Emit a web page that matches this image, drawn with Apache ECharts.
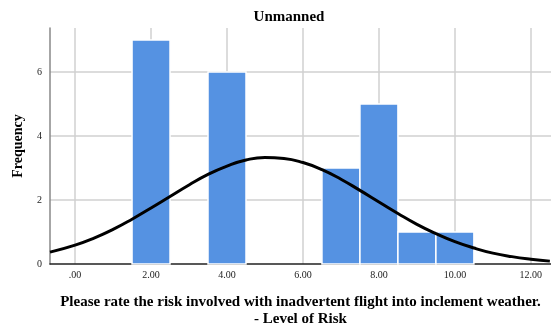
<!DOCTYPE html>
<html><head><meta charset="utf-8">
<script src="https://cdn.jsdelivr.net/npm/echarts@6/dist/echarts.min.js"></script>
<style>html,body{margin:0;padding:0;background:#fff}#c{width:551px;height:324px}</style>
</head><body><div id="c"></div>
<script>
// Histogram bins (center, count), bin width 1
const binCenters = [2, 4, 7, 8, 9, 10];
const binCounts = [7, 6, 3, 5, 1, 1];
const binWidth = 1;
// Normal curve
const curveX = [-0.66, 0, 0.5, 1, 1.5, 2, 2.5, 3, 3.5, 4, 4.5, 5, 5.5, 6, 6.5, 7, 7.5, 8, 8.5, 9, 9.5, 10, 10.5, 11, 11.5, 12, 12.5];
const curveY = [0.37, 0.59, 0.81, 1.08, 1.40, 1.75, 2.11, 2.47, 2.80, 3.06, 3.25, 3.33, 3.30, 3.17, 2.95, 2.65, 2.30, 1.94, 1.58, 1.24, 0.95, 0.70, 0.50, 0.34, 0.23, 0.15, 0.09];
const xTicks = [0, 2, 4, 6, 8, 10, 12];
const yTicks = [0, 2, 4, 6];
const titleText = 'Unmanned';
const xTitle = 'Please rate the risk involved with inadvertent flight into inclement weather.\n- Level of Risk';
const yTitle = 'Frequency';

const serif = '"Liberation Serif", "DejaVu Serif", serif';
const gridStyle = { color: '#d0d0d0', width: 1.5, type: 'solid' };
const chart = echarts.init(document.getElementById('c'));
chart.setOption({
  animation: false,
  title: { text: titleText, left: 284, top: 5, textAlign: 'center',
    textStyle: { fontFamily: serif, fontWeight: 'bold', fontSize: 15, color: '#000' } },
  grid: { left: 50, right: 0, top: 28, bottom: 60, containLabel: false, outerBoundsMode: 'none' },
  xAxis: {
    type: 'value', min: -0.66, max: 12.53,
    axisLine: { show: true, onZero: false, lineStyle: { color: '#222', width: 1.5 } },
    axisTick: { show: false, customValues: xTicks },
    axisLabel: { customValues: xTicks, fontFamily: serif, fontSize: 10, color: '#222', margin: 6,
      formatter: v => v === 0 ? '.00' : v.toFixed(2) },
    splitLine: { show: false },
    name: xTitle, nameLocation: 'middle', nameGap: 30,
    nameTextStyle: { fontFamily: serif, fontWeight: 'bold', fontSize: 15, color: '#000', lineHeight: 17 }
  },
  yAxis: {
    type: 'value', min: 0, max: 7.375,
    axisLine: { show: true, onZero: false, lineStyle: { color: '#888', width: 1.5 } },
    axisTick: { show: false, customValues: yTicks },
    axisLabel: { customValues: yTicks, fontFamily: serif, fontSize: 10, color: '#222', margin: 8 },
    splitLine: { show: false },
    name: yTitle, nameLocation: 'middle', nameGap: 25, nameRotate: 90,
    nameTextStyle: { fontFamily: serif, fontWeight: 'bold', fontSize: 14, color: '#000' }
  },
  series: [
    {
      type: 'line', data: [], z: 0, silent: true,
      markLine: {
        z: 0, silent: true, symbol: 'none', label: { show: false }, lineStyle: gridStyle,
        emphasis: { disabled: true },
        data: xTicks.map(v => ({ xAxis: v })).concat(yTicks.filter(v => v > 0).map(v => ({ yAxis: v })))
      }
    },
    {
      type: 'custom',
      data: binCenters.map((c, i) => [c - binWidth / 2, c + binWidth / 2, binCounts[i]]),
      encode: { x: [0, 1], y: 2 },
      renderItem: (params, api) => {
        const p0 = api.coord([api.value(0), api.value(2)]);
        const p1 = api.coord([api.value(1), 0]);
        return {
          type: 'rect',
          shape: { x: p0[0], y: p0[1], width: p1[0] - p0[0], height: p1[1] - p0[1] },
          style: { fill: '#5592e2', stroke: '#ffffff', lineWidth: 1.5 }
        };
      },
      z: 2
    },
    {
      type: 'line', smooth: true, symbol: 'none',
      data: curveX.map((x, i) => [x, curveY[i]]),
      lineStyle: { color: '#000', width: 3 },
      z: 3
    }
  ]
});
</script></body></html>
